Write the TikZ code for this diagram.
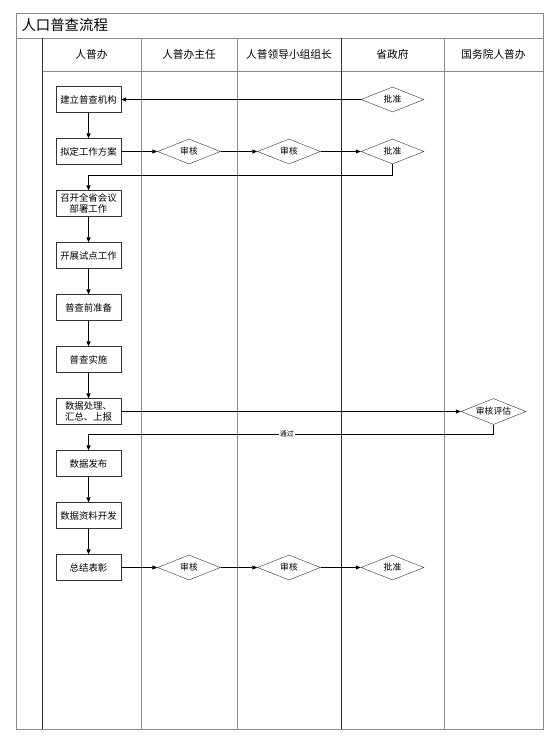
\documentclass[tikz,border=0pt]{standalone}
\usepackage{fontspec}
\setmainfont{Noto Sans CJK SC}
\usetikzlibrary{arrows.meta,positioning,shapes.geometric}
\definecolor{lanegray}{HTML}{8A8A8A}
\definecolor{laneblack}{HTML}{333333}

\begin{document}
\begin{tikzpicture}[x=1pt,y=1pt,
  node distance=25.6pt,
  every node/.style={font=\fontsize{9.4}{11.5}\selectfont},
  task/.style={draw=laneblack,minimum width=65pt,minimum height=26pt,inner sep=2pt,align=center},
  check/.style={draw=laneblack,diamond,aspect=2.5,minimum width=63pt,minimum height=25pt,inner sep=0pt,font=\fontsize{8.8}{10}\selectfont},
  arrow/.style={-{Triangle[length=5pt,width=4pt]},line width=0.6pt},
  lane/.style={draw=lanegray,line width=0.9pt},
  head/.style={font=\fontsize{10.7}{12}\selectfont}
]
\useasboundingbox (0,0) rectangle (556,-740);
\draw[lane] (16,-13) rectangle (543,-729);
\draw[lane] (16,-38) -- (543,-38);
\draw[lane] (42,-71) -- (543,-71);
\foreach \x in {141,237,444} \draw[lane] (\x,-38) -- (\x,-729);
\foreach \x in {42,341} \draw[lane,draw=laneblack] (\x,-38) -- (\x,-729);
\node[anchor=west,font=\fontsize{14.4}{16}\selectfont] (title) at (18,-25.5) {人口普查流程};
\node[head] (hd1) at (91.5,-54) {人普办};
\node[head] (hd2) at (189,-54) {人普办主任};
\node[head] (hd3) at (289,-54) {人普领导小组组长};
\node[head] (hd4) at (392.5,-54) {省政府};
\node[head] (hd5) at (493.5,-54) {国务院人普办};
\node[task] (org) at (88.5,-99.5) {建立普查机构};
\node[task,below=of org] (plan) {拟定工作方案};
\node[task,below=of plan] (meet) {召开全省会议\\部署工作};
\node[task,below=of meet] (pilot) {开展试点工作};
\node[task,below=of pilot] (prep) {普查前准备};
\node[task,below=of prep] (run) {普查实施};
\node[task,below=of run] (proc) {数据处理、\\汇总、上报};
\node[task,below=of proc] (pub) {数据发布};
\node[task,below=of pub] (dev) {数据资料开发};
\node[task,below=of dev] (award) {总结表彰};
\node[check] (okorg) at (hd4 |- org) {批准};
\node[check] (chkplan1) at (hd2 |- plan) {审核};
\node[check] (chkplan2) at (hd3 |- plan) {审核};
\node[check] (okplan) at (hd4 |- plan) {批准};
\node[check,minimum width=65pt,minimum height=26pt] (eval) at (hd5 |- proc) {审核评估};
\node[check] (chkaward1) at (hd2 |- award) {审核};
\node[check] (chkaward2) at (hd3 |- award) {审核};
\node[check] (okaward) at (hd4 |- award) {批准};
\draw[arrow] (okorg)--(org);
\draw[arrow] (org)--(plan);
\draw[arrow] (plan)--(chkplan1);
\draw[arrow] (chkplan1)--(chkplan2);
\draw[arrow] (chkplan2)--(okplan);
\draw[arrow] (okplan.south)--++(0,-11)-|(meet.north);
\draw[arrow] (meet)--(pilot);
\draw[arrow] (pilot)--(prep);
\draw[arrow] (prep)--(run);
\draw[arrow] (run)--(proc);
\draw[arrow] (proc)--(eval);
\draw[arrow] (eval.south)--++(0,-9.6)-|node[pos=0.255,fill=white,inner sep=1pt,font=\fontsize{7}{8}\selectfont]{通过}(pub.north);
\draw[arrow] (pub)--(dev);
\draw[arrow] (dev)--(award);
\draw[arrow] (award)--(chkaward1);
\draw[arrow] (chkaward1)--(chkaward2);
\draw[arrow] (chkaward2)--(okaward);
\end{tikzpicture}
\end{document}
